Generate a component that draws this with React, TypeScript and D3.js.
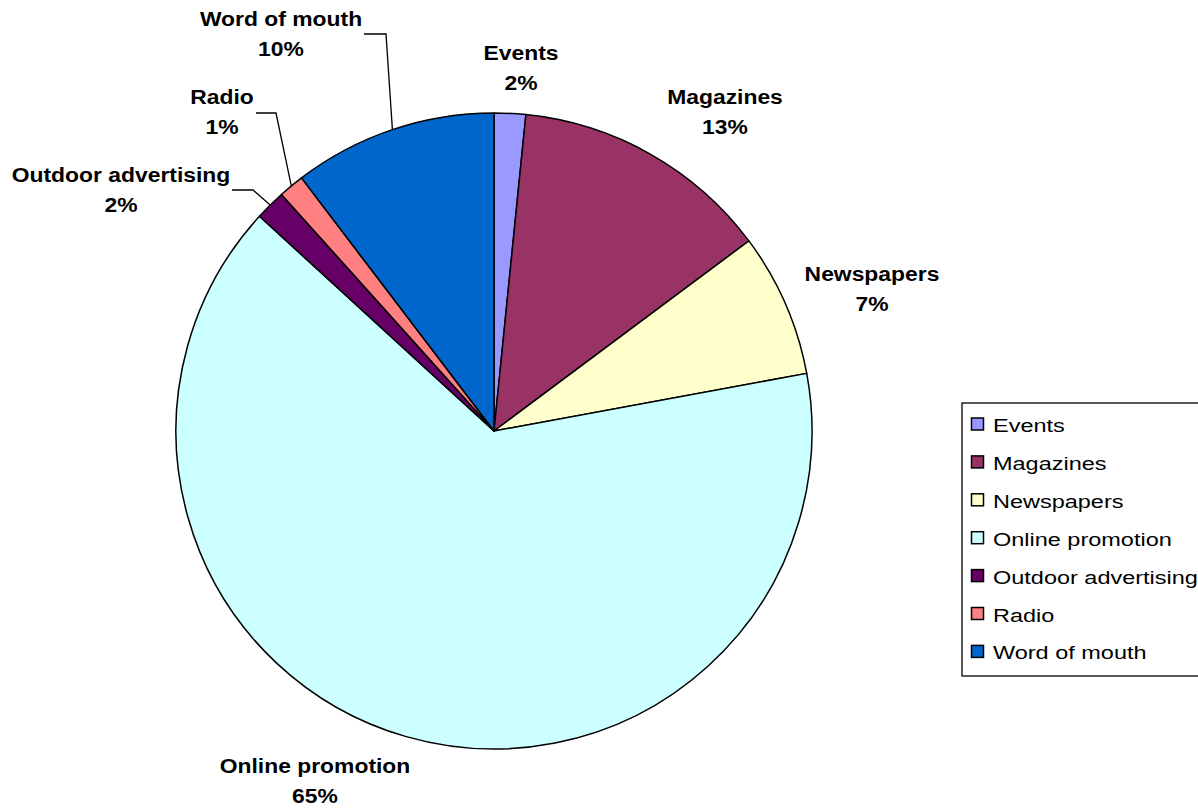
import React from 'react'
import * as d3 from 'd3'

// media mix shares (percent of total)
const categories = ['Events', 'Magazines', 'Newspapers', 'Online promotion', 'Outdoor advertising', 'Radio', 'Word of mouth']
const shares = [1.6, 13.2, 7.3, 64.7, 1.55, 1.3, 10.35]
const colors = ['#9999FF', '#993366', '#FFFFCC', '#CCFFFF', '#660066', '#FF8080', '#0066CC']

// where Excel put each data label (center x, first baseline y)
const labelPos: Record<string, [number, number]> = {
    'Events': [521, 60],
    'Magazines': [725, 104],
    'Newspapers': [872, 281],
    'Online promotion': [315, 773],
    'Outdoor advertising': [121, 182],
    'Radio': [222, 104],
    'Word of mouth': [281, 26],
}
// leader lines: horizontal stub start/end, then down to the slice edge
const leaders: Record<string, [number, number, number]> = {
    'Outdoor advertising': [232, 253, 190],
    'Radio': [256, 276, 113],
    'Word of mouth': [364, 386, 34],
}

const W = 1198
const H = 809
const cx = 494
const cy = 431
const radius = 318

export default function App() {
    const total = d3.sum(shares)
    const data = categories.map((c, i) => ({ name: c, value: shares[i], color: colors[i] }))

    const pie = d3.pie<any>().sort(null).value((d) => d.value).startAngle(0).endAngle(2 * Math.PI)
    const arcs = pie(data)
    const arc = d3.arc<any>().innerRadius(0).outerRadius(radius)

    const edgePoint = (a: any) => {
        const mid = (a.startAngle + a.endAngle) / 2
        return [cx + radius * Math.sin(mid), cy - radius * Math.cos(mid)]
    }

    // legend
    const legendTop = 403
    const rowH = 37.9
    const firstRow = 424.5

    return (
        <svg width={W} height={H} style={{ position: 'absolute', left: 0, top: 0, background: '#fff' }}
            fontFamily="'Liberation Sans', Arial, sans-serif">
            <g transform={`translate(${cx},${cy})`}>
                {arcs.map((a) => (
                    <path key={a.data.name} d={arc(a) as string} fill={a.data.color} stroke="#000" strokeWidth={1.5} strokeLinejoin="round" />
                ))}
            </g>

            {arcs.map((a) => {
                const ld = leaders[a.data.name]
                if (!ld) return null
                const [ex, ey] = edgePoint(a)
                return (
                    <polyline key={'l' + a.data.name} points={`${ld[0]},${ld[2]} ${ld[1]},${ld[2]} ${ex},${ey}`}
                        fill="none" stroke="#000" strokeWidth={1.3} />
                )
            })}

            {arcs.map((a) => {
                const [x, y] = labelPos[a.data.name]
                const pct = Math.round((a.data.value / total) * 100) + '%'
                // Excel stretched the label text sideways a little
                return (
                    <text key={'t' + a.data.name} transform={`translate(${x},${y}) scale(1.09,1)`} textAnchor="middle"
                        fontWeight="bold" fontSize={21} fill="#000">
                        <tspan x={0} y={0}>{a.data.name}</tspan>
                        <tspan x={0} y={30}>{pct}</tspan>
                    </text>
                )
            })}

            <g>
                <rect x={962} y={legendTop} width={260} height={273} fill="#fff" stroke="#000" strokeWidth={1.3} />
                {data.map((d, i) => {
                    const yc = firstRow + i * rowH
                    return (
                        <g key={'lg' + d.name}>
                            <rect x={971.5} y={yc - 6.5} width={12} height={12} fill={d.color} stroke="#000" strokeWidth={1.5} />
                            <text transform={`translate(993,${yc + 7.5}) scale(1.27,1)`} fontSize={18.5} fill="#000">{d.name}</text>
                        </g>
                    )
                })}
            </g>
        </svg>
    )
}
